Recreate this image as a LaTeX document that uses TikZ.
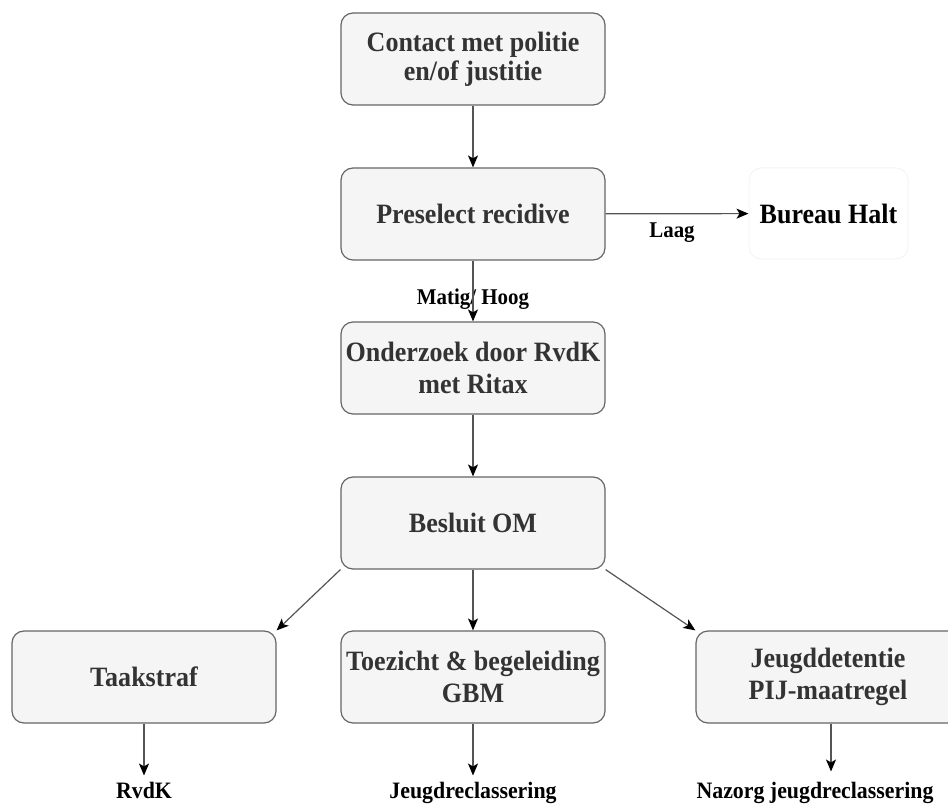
\documentclass[tikz,border=0pt]{standalone}
\usepackage{fontspec}
\setmainfont{Liberation Serif}[FakeStretch=0.93]
\usetikzlibrary{arrows.meta}
\definecolor{boxfill}{HTML}{F5F5F5}
\definecolor{boxline}{HTML}{666666}
\definecolor{boxtext}{HTML}{333333}
\definecolor{edge}{HTML}{555555}
\definecolor{faint}{HTML}{F4F4F4}
\begin{document}
\begin{tikzpicture}[x=1pt,y=-1pt,
  box/.style={draw=boxline, fill=boxfill, rounded corners=12pt, line width=1.2pt,
    minimum width=264pt, minimum height=92pt, inner sep=0pt, align=center,
    text=boxtext, font=\fontsize{28}{31.5}\selectfont\bfseries},
  conn/.style={draw=edge, line width=1.2pt,
    -{Stealth[length=12pt,width=10pt,inset=3pt,color=black]}},
  lbl/.style={font=\fontsize{22.5}{24}\selectfont\bfseries, text=black, inner sep=0pt},
  outlbl/.style={font=\fontsize{23.5}{25}\selectfont\bfseries, text=black, inner sep=0pt}
]
\useasboundingbox (0,0) rectangle (948,805);

\node[box, font=\fontsize{28}{29}\selectfont\bfseries] (contact) at (473,59) {Contact met politie\\en/of justitie};
\node[box] (presel) at (473,214) {Preselect recidive};
\node[box] (onderz) at (473,368) {Onderzoek door RvdK\\met Ritax};
\node[box] (besluit) at (473,523) {Besluit OM};
\node[box] (taak) at (144,677) {Taakstraf};
\node[box] (toez) at (473,677) {Toezicht \& begeleiding\\GBM};
\node[box] (jeugd) at (828,677) {Jeugddetentie\\PIJ-maatregel};

\node[draw=faint, line width=1pt, rounded corners=12pt, minimum width=159pt,
  minimum height=91pt, inner sep=0pt, text=black,
  font=\fontsize{28}{29}\selectfont\bfseries] (halt) at (828.5,213.5) {Bureau Halt};

\node[lbl, anchor=base] (laag) at (672,238) {Laag};
\node[lbl, anchor=base] (matig) at (473,305) {Matig/ Hoog};

\node[outlbl, anchor=base] (rvdk) at (144,798) {RvdK};
\node[outlbl, anchor=base] (jrecl) at (473,798) {Jeugdreclassering};
\node[outlbl, anchor=base] (nazorg) at (815,798) {Nazorg jeugdreclassering};

\draw[conn] (contact) -- (presel);
\draw[conn] (presel) -- (halt);
\draw[conn] (presel) -- (onderz);
\draw[conn] (onderz) -- (besluit);
\draw[conn] (besluit.south west) -- (taak.north east);
\draw[conn] (besluit) -- (toez);
\draw[conn] (besluit.south east) -- (jeugd.north west);

\draw[conn, shorten >=6pt] (taak) -- (taak |- rvdk.north);
\draw[conn, shorten >=6pt] (toez) -- (toez |- jrecl.north);
\draw[conn, shorten >=10pt] (jeugd.south) ++(3,0) coordinate (jstart) -- (jstart |- nazorg.north);
\end{tikzpicture}
\end{document}
